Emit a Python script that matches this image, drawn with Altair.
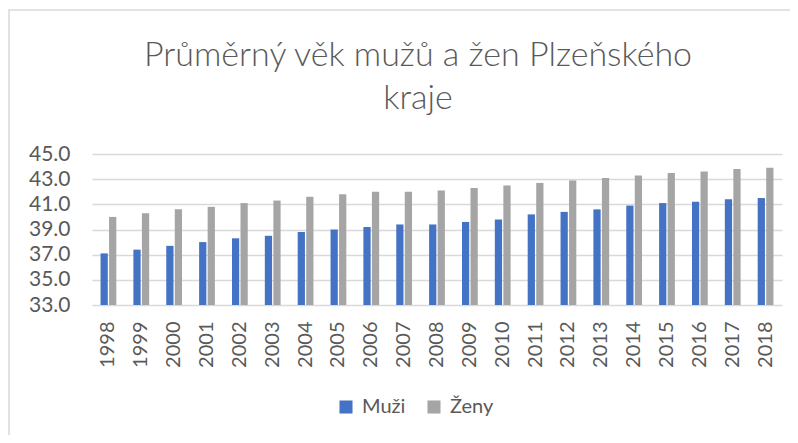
import altair as alt
import pandas as pd

years = [str(y) for y in range(1998, 2019)]
muzi = [37.1, 37.4, 37.7, 38.0, 38.3, 38.5, 38.8, 39.0, 39.2, 39.4, 39.4,
        39.6, 39.8, 40.2, 40.4, 40.6, 40.9, 41.1, 41.2, 41.4, 41.5]
zeny = [40.0, 40.3, 40.6, 40.8, 41.1, 41.3, 41.6, 41.8, 42.0, 42.0, 42.1,
        42.3, 42.5, 42.7, 42.9, 43.1, 43.3, 43.5, 43.6, 43.8, 43.9]
series = ["Muži", "Ženy"]
colors = ["#4472C4", "#A5A5A5"]
y_ticks = [33, 35, 37, 39, 41, 43, 45]
title_lines = ["Průměrný věk mužů a žen Plzeňského", "kraje"]

rows = []
for i, y in enumerate(years):
    rows.append({"rok": y, "pohlaví": series[0], "věk": muzi[i]})
    rows.append({"rok": y, "pohlaví": series[1], "věk": zeny[i]})
df = pd.DataFrame(rows)

FONT = "Lato"
GREY = "#595959"

bars = alt.Chart(df).mark_bar().encode(
    x=alt.X("rok:O", sort=years,
            scale=alt.Scale(paddingInner=0.52, paddingOuter=0.26),
            axis=alt.Axis(title=None, labelAngle=-90, labelFontSize=20,
                          labelColor=GREY, labelFont=FONT, labelPadding=16,
                          ticks=False, domain=False, labelBaseline="middle")),
    xOffset=alt.XOffset("pohlaví:N", sort=series,
                        scale=alt.Scale(paddingInner=0.15)),
    y=alt.Y("věk:Q", scale=alt.Scale(domain=[33, 45], zero=False, nice=False),
            axis=alt.Axis(title=None, values=y_ticks, format=".1f",
                          labelFontSize=21, labelColor=GREY, labelFont=FONT,
                          labelPadding=22, ticks=False, domain=False,
                          gridColor="#D9D9D9", gridWidth=1.5)),
    y2=alt.datum(33),
    color=alt.Color("pohlaví:N", sort=series,
                    scale=alt.Scale(domain=series, range=colors),
                    legend=alt.Legend(title=None, orient="none",
                                      direction="horizontal",
                                      legendX=244, legendY=243,
                                      symbolType="square", symbolSize=170,
                                      symbolStrokeWidth=0,
                                      labelFontSize=20, labelColor=GREY,
                                      labelFont=FONT, columnPadding=18,
                                      labelOffset=6)),
)

frame = alt.Chart(pd.DataFrame({"a": [0]})).mark_rect(
    fill=None, stroke="#D9D9D9", strokeWidth=1.5
).encode(x=alt.value(-83), x2=alt.value(720), y=alt.value(-144), y2=alt.value(300))

title = alt.Chart(pd.DataFrame({"a": [0]})).mark_text(
    text=title_lines, font=FONT, fontSize=34, fontWeight=300, color=GREY,
    align="center", baseline="alphabetic", lineHeight=43
).encode(x=alt.value(326), y=alt.value(-88))

chart = alt.layer(frame, title, bars).properties(
    width=690, height=151,
    autosize=alt.AutoSizeParams(type="none"),
    padding={"left": 84, "top": 146, "right": 8, "bottom": 130},
).configure_view(stroke=None)

chart.save("out.html", embed_options={"renderer": "svg", "actions": False})
